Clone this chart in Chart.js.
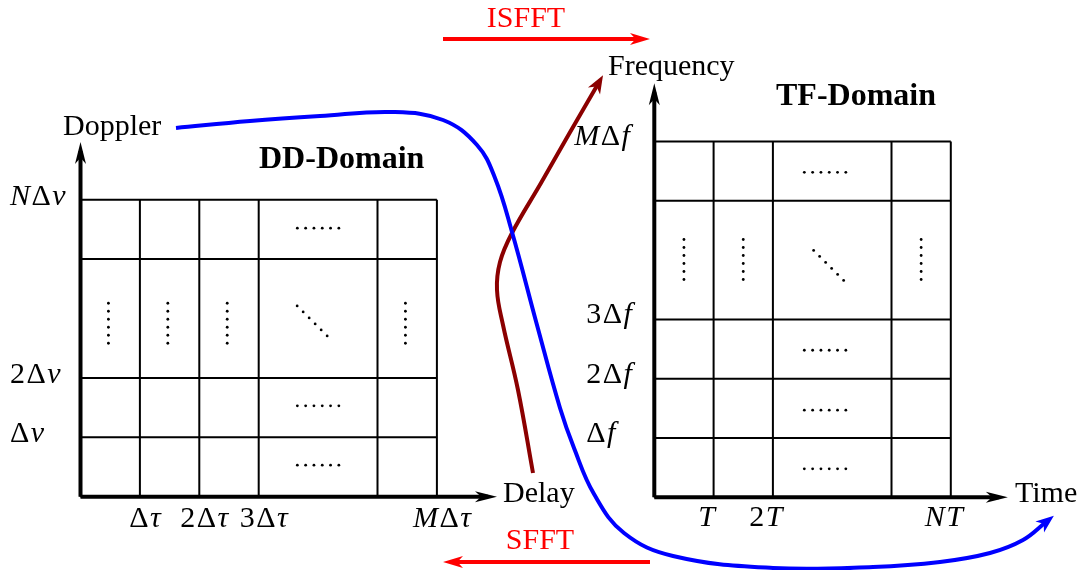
<!DOCTYPE html>
<html>
<head>
<meta charset="utf-8">
<script src="https://cdn.jsdelivr.net/npm/chart.js@4.4.1/dist/chart.umd.min.js"></script>
<style>
  body { margin: 0; background: #fff; }
  canvas { display: block; }
</style>
</head>
<body>
<canvas id="diagram" width="1085" height="570"></canvas>
<script>
// grid lines of both domains, in cell units
var ddColumns = [0, 1, 2, 3, 5, 6];
var ddRows = [0, 1, 2, 4, 5];
var tfColumns = [0, 1, 2, 4, 5];
var tfRows = [0, 1, 2, 3, 5, 6];

// axis lengths (where the arrow shaft stops)
var ddAxisEnd = [6.86, 5.82];
var tfAxisEnd = [5.81, 6.83];

// tick labels
var ddTauTicks = [1, 2, 3, 6];
var ddTauLabels = ["Δτ", "2Δτ", "3Δτ", "MΔτ"];
var ddNuTicks = [1, 2, 5];
var ddNuLabels = ["Δν", "2Δν", "NΔν"];
var tfTimeTicks = [1, 2, 5];
var tfTimeLabels = ["T", "2T", "NT"];
var tfFreqTicks = [1, 2, 3, 6];
var tfFreqLabels = ["Δf", "2Δf", "3Δf", "MΔf"];

// ellipsis marks inside the cells: [x, y, direction]
var ddDots = [
  [4, 4.52, "h"], [4, 1.53, "h"], [4, 0.53, "h"],
  [0.47, 2.92, "v"], [1.47, 2.92, "v"], [2.47, 2.92, "v"], [5.47, 2.92, "v"],
  [3.9, 2.96, "d"]
];
var tfDots = [
  [2.88, 5.48, "h"], [2.88, 2.48, "h"], [2.88, 1.47, "h"], [2.88, 0.48, "h"],
  [0.5, 4.01, "v"], [1.5, 4.01, "v"], [4.5, 4.01, "v"],
  [2.94, 3.91, "d"]
];

// transform arrows, page pixels
var isfftArrow = [[443, 39], [642, 39]];
var sfftArrow = [[650, 562], [451, 562]];
var dopplerToTime = [
  [176, 128], [250, 121], [320, 116], [393, 112], [443, 120], [477, 145],
  [495, 178], [512, 232], [537, 325], [560, 408], [574, 448], [594, 494],
  [624, 533], [673, 556], [773, 568], [873, 567], [940, 562], [990, 553],
  [1023, 540], [1046, 522]
];
var delayToFrequency = [
  [533, 473], [518, 390], [503, 325], [497, 290], [500, 262], [512, 233],
  [541, 183], [569, 134], [598, 84]
];

var W = 1085, H = 570;
var DD = { x0: 80.5, y0: 496.7, unit: 59.4 };
var TF = { x0: 654.3, y0: 497.3, unit: 59.3 };
var SERIF = '"Liberation Serif", "Times New Roman", serif';

function gridData(cols, rows) {
  var top = rows[rows.length - 1], right = cols[cols.length - 1];
  var out = [];
  cols.forEach(function (c) {
    out.push({ x: c, y: 0 }, { x: c, y: top }, { x: c, y: null });
  });
  rows.forEach(function (r) {
    out.push({ x: 0, y: r }, { x: right, y: r }, { x: null, y: r });
  });
  return out;
}
function pts(list) {
  return list.map(function (p) { return { x: p[0], y: p[1] }; });
}

function line(data, xAxis, yAxis, color, width, extra) {
  var ds = {
    data: data, xAxisID: xAxis, yAxisID: yAxis,
    showLine: true, borderColor: color, backgroundColor: color,
    borderWidth: width, pointRadius: 0, spanGaps: false, tension: 0
  };
  return Object.assign(ds, extra || {});
}

var datasets = [
  line(gridData(ddColumns, ddRows), "ddX", "ddY", "#000", 2),
  line(gridData(tfColumns, tfRows), "tfX", "tfY", "#000", 2),
  line([{ x: 0, y: 0 }, { x: ddAxisEnd[0], y: 0 }], "ddX", "ddY", "#000", 4, { arrow: { L: 22, W: 5.5, ext: 9 } }),
  line([{ x: 0, y: 0 }, { x: 0, y: ddAxisEnd[1] }], "ddX", "ddY", "#000", 4, { arrow: { L: 22, W: 5.5, ext: 9 } }),
  line([{ x: 0, y: 0 }, { x: tfAxisEnd[0], y: 0 }], "tfX", "tfY", "#000", 4, { arrow: { L: 22, W: 5.5, ext: 9 } }),
  line([{ x: 0, y: 0 }, { x: 0, y: tfAxisEnd[1] }], "tfX", "tfY", "#000", 4, { arrow: { L: 22, W: 5.5, ext: 9 } }),
  line(pts(isfftArrow), "px", "py", "#ff0000", 4, { arrow: { L: 20, W: 6, ext: 8 } }),
  line(pts(sfftArrow), "px", "py", "#ff0000", 4, { arrow: { L: 20, W: 6, ext: 8 } }),
  line(pts(dopplerToTime), "px", "py", "#0000ff", 4, { tension: 0.4, arrow: { L: 18, W: 7, ext: 10 } }),
  line(pts(delayToFrequency), "px", "py", "#8b0000", 4, { tension: 0.4, arrow: { L: 18, W: 7, ext: 10 } })
];

function mathText(ctx, s, x, y, align, size, color) {
  var parts = [];
  var gap = 1.5, total = 0;
  Array.from(s).forEach(function (ch) {
    var italic = /[A-Za-z\u03b1-\u03c9]/.test(ch);
    var font = (italic ? "italic " : "") + size + "px " + SERIF;
    ctx.font = font;
    var w = ctx.measureText(ch).width;
    parts.push({ ch: ch, font: font, w: w });
    total += w;
  });
  total += gap * (parts.length - 1);
  var cx = x;
  if (align === "center") cx = x - total / 2;
  if (align === "right") cx = x - total;
  ctx.fillStyle = color || "#000";
  ctx.textBaseline = "middle";
  ctx.textAlign = "left";
  parts.forEach(function (p) {
    ctx.font = p.font;
    ctx.fillText(p.ch, cx, y);
    cx += p.w + gap;
  });
}

function plainText(ctx, s, x, y, align, font, color) {
  ctx.font = font;
  ctx.fillStyle = color || "#000";
  ctx.textAlign = align;
  ctx.textBaseline = "middle";
  ctx.fillText(s, x, y);
}

var arrowHeads = {
  id: "arrowHeads",
  afterDatasetsDraw: function (chart) {
    var ctx = chart.ctx;
    chart.data.datasets.forEach(function (ds, i) {
      if (!ds.arrow) return;
      var els = chart.getDatasetMeta(i).data;
      var last = els[els.length - 1], prev = els[els.length - 2];
      var bx = prev.x, by = prev.y;
      if (last.cp1x !== undefined && Math.hypot(last.x - last.cp1x, last.y - last.cp1y) > 0.5) {
        bx = last.cp1x; by = last.cp1y;
      }
      var dx = last.x - bx, dy = last.y - by, len = Math.hypot(dx, dy);
      dx /= len; dy /= len;
      var a = ds.arrow;
      var tx = last.x + dx * a.ext, ty = last.y + dy * a.ext;
      var nx = -dy, ny = dx;
      ctx.save();
      ctx.fillStyle = ds.borderColor;
      ctx.beginPath();
      ctx.moveTo(tx, ty);
      ctx.lineTo(tx - dx * a.L + nx * a.W, ty - dy * a.L + ny * a.W);
      ctx.lineTo(tx - dx * a.L * 0.72, ty - dy * a.L * 0.72);
      ctx.lineTo(tx - dx * a.L - nx * a.W, ty - dy * a.L - ny * a.W);
      ctx.closePath();
      ctx.fill();
      ctx.restore();
    });
  }
};

var cellMarks = {
  id: "cellMarks",
  afterDatasetsDraw: function (chart) {
    var ctx = chart.ctx, s = chart.scales;
    function dots(list, xs, ys) {
      list.forEach(function (d) {
        var cx = xs.getPixelForValue(d[0]), cy = ys.getPixelForValue(d[1]);
        var step = d[2] === "h" ? [8.3, 0] : d[2] === "v" ? [0, 8] : [6, 6];
        for (var k = 0; k < 6; k++) {
          var o = k - 2.5;
          ctx.beginPath();
          ctx.arc(cx + o * step[0], cy + o * step[1], 1.4, 0, Math.PI * 2);
          ctx.fillStyle = "#000";
          ctx.fill();
        }
      });
    }
    dots(ddDots, s.ddX, s.ddY);
    dots(tfDots, s.tfX, s.tfY);
  }
};

var labels = {
  id: "labels",
  afterDraw: function (chart) {
    var ctx = chart.ctx, s = chart.scales;
    ctx.save();
    var fs = 30;

    ddTauTicks.forEach(function (v, i) {
      mathText(ctx, ddTauLabels[i], s.ddX.getPixelForValue(v) + 5, DD.y0 + 22, "center", fs);
    });
    ddNuTicks.forEach(function (v, i) {
      mathText(ctx, ddNuLabels[i], 10, s.ddY.getPixelForValue(v) - 3, "left", fs);
    });
    tfTimeTicks.forEach(function (v, i) {
      mathText(ctx, tfTimeLabels[i], s.tfX.getPixelForValue(v) - 7, TF.y0 + 21, "center", fs);
    });
    tfFreqTicks.forEach(function (v, i) {
      var top = i === tfFreqTicks.length - 1;
      mathText(ctx, tfFreqLabels[i], top ? TF.x0 - 80 : TF.x0 - 68, s.tfY.getPixelForValue(v) - 4, "left", fs);
    });

    var f = fs + "px " + SERIF;
    plainText(ctx, "Doppler", 63, 127, "left", f);
    plainText(ctx, "Delay", 503, 494, "left", f);
    plainText(ctx, "Frequency", 608, 67, "left", f);
    plainText(ctx, "Time", 1015, 494, "left", f);
    plainText(ctx, "DD-Domain", 259, 160, "left", "bold 32px " + SERIF);
    plainText(ctx, "TF-Domain", 776, 97, "left", "bold 32px " + SERIF);
    plainText(ctx, "ISFFT", 526, 19, "center", f, "#ff0000");
    plainText(ctx, "SFFT", 540, 541, "center", f, "#ff0000");
    ctx.restore();
  }
};

function hidden(min, max, extra) {
  return Object.assign({ type: "linear", display: false, min: min, max: max }, extra || {});
}

new Chart(document.getElementById("diagram"), {
  type: "scatter",
  data: { datasets: datasets },
  options: {
    responsive: false,
    animation: false,
    devicePixelRatio: 1,
    events: [],
    layout: { padding: 0 },
    plugins: { legend: { display: false }, tooltip: { enabled: false } },
    scales: {
      ddX: hidden(-DD.x0 / DD.unit, (W - DD.x0) / DD.unit, { axis: "x", position: "bottom" }),
      ddY: hidden(-(H - DD.y0) / DD.unit, DD.y0 / DD.unit, { axis: "y", position: "left" }),
      tfX: hidden(-TF.x0 / TF.unit, (W - TF.x0) / TF.unit, { axis: "x", position: "bottom" }),
      tfY: hidden(-(H - TF.y0) / TF.unit, TF.y0 / TF.unit, { axis: "y", position: "left" }),
      px: hidden(0, W, { axis: "x", position: "bottom" }),
      py: hidden(0, H, { axis: "y", position: "left", reverse: true })
    }
  },
  plugins: [arrowHeads, cellMarks, labels]
});
</script>
</body>
</html>
